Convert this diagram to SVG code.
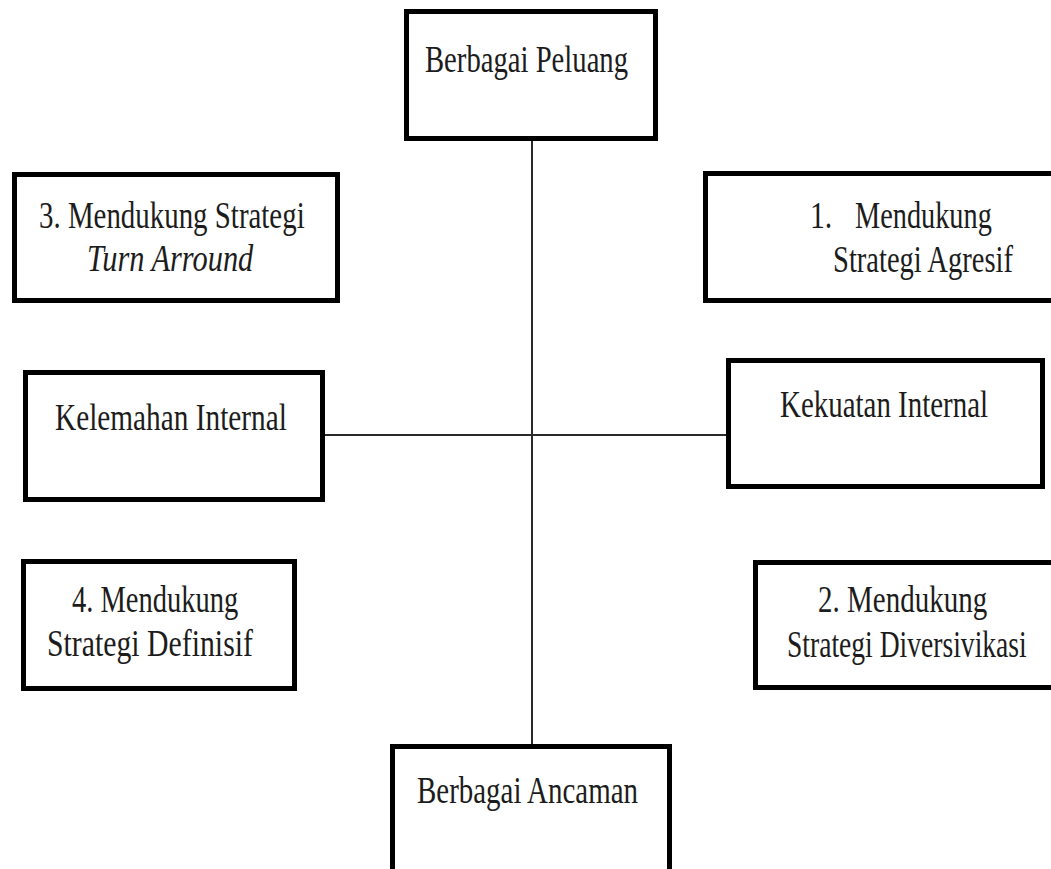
<svg xmlns="http://www.w3.org/2000/svg" width="1051" height="869" viewBox="0 0 1051 869">
<style>
.box{fill:#fff;stroke:#000;stroke-width:5}
.t{font-family:"Liberation Serif","Times New Roman",serif;font-size:38px;fill:#1c1c1c}
.i{font-style:italic}
.conn{stroke:#2a2a2a;stroke-width:2;fill:none}
</style>
<rect width="1051" height="869" fill="#fff"/>
<g id="connectors">
<line class="conn" x1="532" y1="138" x2="532" y2="746"/>
<line class="conn" x1="324" y1="435" x2="728" y2="435"/>
</g>
<g id="peluang">
<rect class="box" x="406.5" y="11.5" width="249" height="127"/>
<text class="t" transform="translate(425 72) scale(0.72 1)" textLength="282" lengthAdjust="spacingAndGlyphs">Berbagai Peluang</text>
</g>
<g id="turnaround">
<rect class="box" x="14.5" y="174.5" width="323" height="126"/>
<text class="t" transform="translate(39 228) scale(0.72 1)" textLength="369" lengthAdjust="spacingAndGlyphs">3. Mendukung Strategi</text>
<text class="t i" transform="translate(87 271) scale(0.72 1)" textLength="231" lengthAdjust="spacingAndGlyphs">Turn Arround</text>
</g>
<g id="agresif">
<rect class="box" x="705.5" y="173.5" width="360" height="127"/>
<text class="t" transform="translate(810 228) scale(0.72 1)" textLength="31" lengthAdjust="spacingAndGlyphs">1.</text>
<text class="t" transform="translate(855 228) scale(0.72 1)" textLength="190" lengthAdjust="spacingAndGlyphs">Mendukung</text>
<text class="t" transform="translate(833 272) scale(0.72 1)" textLength="250" lengthAdjust="spacingAndGlyphs">Strategi Agresif</text>
</g>
<g id="kelemahan">
<rect class="box" x="25.5" y="372.5" width="297" height="127"/>
<text class="t" transform="translate(55 430) scale(0.72 1)" textLength="322" lengthAdjust="spacingAndGlyphs">Kelemahan Internal</text>
</g>
<g id="kekuatan">
<rect class="box" x="728.5" y="360.5" width="314" height="126"/>
<text class="t" transform="translate(780 417) scale(0.72 1)" textLength="289" lengthAdjust="spacingAndGlyphs">Kekuatan Internal</text>
</g>
<g id="definisif">
<rect class="box" x="23.5" y="561.5" width="271" height="127"/>
<text class="t" transform="translate(72 612) scale(0.72 1)" textLength="231" lengthAdjust="spacingAndGlyphs">4. Mendukung</text>
<text class="t" transform="translate(47 656) scale(0.72 1)" textLength="286" lengthAdjust="spacingAndGlyphs">Strategi Definisif</text>
</g>
<g id="diversivikasi">
<rect class="box" x="755.5" y="562.5" width="320" height="125"/>
<text class="t" transform="translate(818 612) scale(0.72 1)" textLength="235" lengthAdjust="spacingAndGlyphs">2. Mendukung</text>
<text class="t" transform="translate(787 657) scale(0.72 1)" textLength="333" lengthAdjust="spacingAndGlyphs">Strategi Diversivikasi</text>
</g>
<g id="ancaman">
<rect class="box" x="392.5" y="746.5" width="277" height="150"/>
<text class="t" transform="translate(417 803) scale(0.72 1)" textLength="307" lengthAdjust="spacingAndGlyphs">Berbagai Ancaman</text>
</g>
</svg>
